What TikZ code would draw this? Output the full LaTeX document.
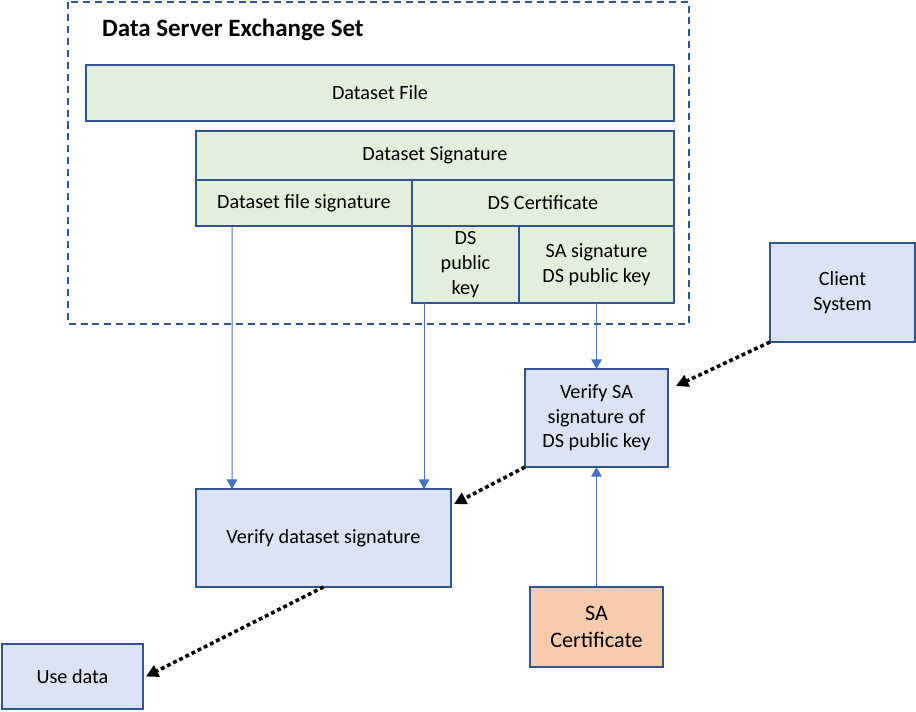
\documentclass[tikz,border=0pt]{standalone}
\usepackage{fontspec}
\setmainfont{Carlito}
\usetikzlibrary{arrows.meta}
\definecolor{edgeblue}{RGB}{47,85,151}
\definecolor{arrowblue}{RGB}{68,114,196}
\definecolor{cellgreen}{RGB}{226,239,218}
\definecolor{stepblue}{RGB}{218,227,243}
\definecolor{certorange}{RGB}{248,203,173}
\tikzset{
  cell/.style={draw=edgeblue, line width=1.1pt, fill=cellgreen, align=center, inner sep=1pt, outer sep=0pt},
  stepbox/.style={cell, fill=stepblue},
  feed/.style={color=arrowblue, line width=0.55pt, -{Triangle[length=5.5pt,width=6pt]}},
  hand/.style={color=black, line width=2pt, dash pattern=on 2.2pt off 1.7pt, -{Triangle[length=7pt,width=7pt]}}
}
\begin{document}
\begin{tikzpicture}[x=0.02cm, y=-0.02cm, font=\fontsize{11.5}{14}\selectfont]
\useasboundingbox (0,0) rectangle (916,711);

\draw[edgeblue, line width=1.1pt, dash pattern=on 4pt off 2.8pt] (68,2) rectangle (689,324);
\node[anchor=west, font=\fontsize{14.2}{16}\selectfont\bfseries] (title) at (96,30) {Data Server Exchange Set};

\node[cell, minimum width=11.76cm, minimum height=1.12cm] (dsfile)   at (380,93)    {Dataset File};
\node[cell, minimum width=9.56cm,  minimum height=0.98cm] (dssig)    at (435,155.5) {Dataset Signature};
\node[cell, minimum width=4.32cm,  minimum height=0.92cm] (filesig)  at (304,203)   {Dataset file signature};
\node[cell, minimum width=5.24cm,  minimum height=0.92cm] (dscert)   at (543,203)   {DS Certificate};
\node[cell, minimum width=2.14cm,  minimum height=1.54cm] (dskey)    at (465.5,264.5) {DS\\public\\key};
\node[cell, minimum width=3.10cm,  minimum height=1.54cm] (sasig)    at (596.5,264.5) {SA signature\\DS public key};

\node[stepbox, minimum width=2.90cm, minimum height=1.98cm] (client)   at (842.5,292.5) {Client\\System};
\node[stepbox, minimum width=2.86cm, minimum height=1.96cm] (verifysa) at (596.5,418)   {Verify SA\\signature of\\DS public key};
\node[stepbox, minimum width=5.10cm, minimum height=1.96cm] (verifyds) at (323.5,538)   {Verify dataset signature};
\node[cell, fill=certorange, font=\fontsize{12.6}{15.3}\selectfont, minimum width=2.66cm, minimum height=1.60cm] (sacert) at (596.5,627) {SA\\Certificate};
\node[stepbox, minimum width=2.82cm, minimum height=1.30cm] (usedata)  at (72.5,676.5) {Use data};

\path[feed] ([xshift=0.72cm]filesig.south west) edge ([xshift=0.72cm]verifyds.north west);
\path[feed] ([xshift=0.24cm]dskey.south west) edge ([xshift=0.24cm]dskey.south west |- verifyds.north);
\path[feed] (sasig.south) edge (verifysa.north);
\path[feed] (sacert.north) edge (verifysa.south);

\path[hand] (client.south west) edge ([xshift=0.16cm,yshift=-0.34cm]verifysa.north east);
\path[hand] (verifysa.south west) edge ([xshift=0.06cm,yshift=-0.3cm]verifyds.north east);
\path[hand] (verifyds.south) edge ([xshift=0.06cm]usedata.east);
\end{tikzpicture}
\end{document}
